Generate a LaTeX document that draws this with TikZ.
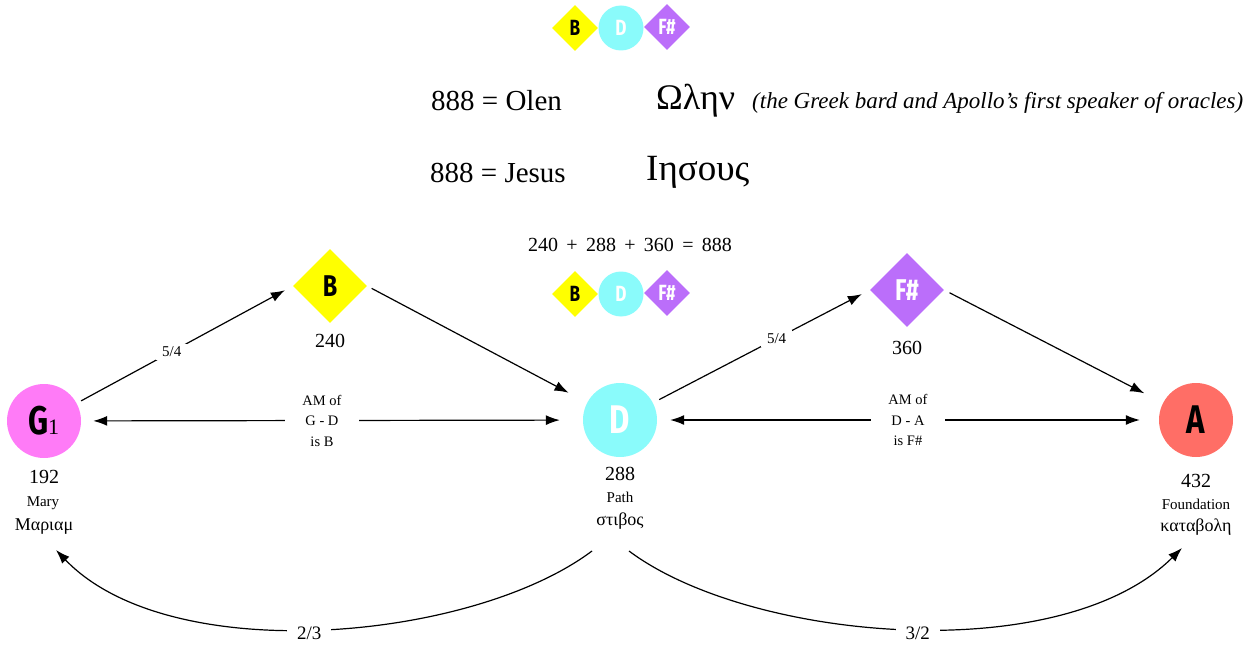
\documentclass[tikz,border=0pt]{standalone}
\usepackage{fontspec}
\setmainfont{Liberation Serif}
\newfontfamily\letfont{Fira Sans}
\usetikzlibrary{shapes.geometric,arrows.meta}
\definecolor{gpink}{HTML}{FF7BF7}
\definecolor{dcyan}{HTML}{8AFBFB}
\definecolor{ared}{HTML}{FF6E66}
\definecolor{byel}{HTML}{FFFF00}
\definecolor{fpurp}{HTML}{BB6EFA}
\newcommand\fsz[1]{\fontsize{#1}{#1}\selectfont}
\newcommand\letx[2]{\scalebox{0.78}[1]{\letfont\bfseries\fsz{#1}#2}}
\tikzset{
  conn/.style={line width=1.2pt, -{Latex[length=14pt,width=10pt]}},
  bothconn/.style={line width=1.2pt, {Latex[length=14pt,width=10pt]}-{Latex[length=14pt,width=10pt]}},
  bigcirc/.style={circle, minimum size=74pt, inner sep=0pt},
  bigdiam/.style={diamond, minimum size=74pt, inner sep=0pt},
  smcirc/.style={circle, minimum size=45pt, inner sep=0pt},
  smdiam/.style={diamond, minimum size=46pt, inner sep=0pt},
  lab/.style={fill=white, inner xsep=6pt, inner ysep=3pt, font=\fsz{15}},
  amlab/.style={fill=white, inner xsep=17pt, inner ysep=2pt, align=center, font=\fontsize{14.5}{20.5}\selectfont},
  arclab/.style={fill=white, inner xsep=10pt, inner ysep=3pt, font=\fsz{19}},
  numtxt/.style={inner sep=0pt, font=\fsz{20}},
  wordtxt/.style={inner sep=0pt, font=\fsz{15}},
  greektxt/.style={inner sep=0pt, font=\fsz{18}},
  bigtxt/.style={inner sep=0pt, anchor=west, font=\fsz{29}},
}
\begin{document}
\begin{tikzpicture}[x=1pt,y=-1pt]
\useasboundingbox (0,0) rectangle (1259,650);
% top legend
\node[smdiam, fill=byel] (lb1) at (575,28) {\letx{22}{B}};
\node[smcirc, fill=dcyan, text=white] (ld1) at (621,28) {\letx{22}{D}};
\node[smdiam, fill=fpurp, text=white] (lf1) at (667,27) {\letx{22}{F\#}};
% titles
\node[bigtxt] (olen) at (431,101) {888 = Olen};
\node[inner sep=0pt, anchor=west, font=\fsz{36}] (olengr) at (656,101) {Ωλην};
\node[inner sep=0pt, anchor=west, font=\fsz{23}\itshape] (olennote) at (752,103) {(the Greek bard and Apollo’s first speaker of oracles)};
\node[bigtxt] (jesus) at (430,173) {888 = Jesus};
\node[inner sep=0pt, anchor=west, font=\fsz{37}] (jesusgr) at (646,172) {Ιησους};
\node[inner sep=0pt, font=\fsz{20}] (sum) at (630,245) {240\ \,+\ \,288\ \,+\ \,360\ \,=\ \,888};
% second legend
\node[smdiam, fill=byel] (lb2) at (575,294) {\letx{22}{B}};
\node[smcirc, fill=dcyan, text=white] (ld2) at (621,294) {\letx{22}{D}};
\node[smdiam, fill=fpurp, text=white] (lf2) at (667,293) {\letx{22}{F\#}};
% main nodes
\node[bigcirc, fill=gpink] (G) at (44,421) {\letx{40}{G}\hspace{-1pt}{\fsz{22}1}};
\node[bigdiam, fill=byel] (B) at (330,286) {\letx{30}{B}};
\node[bigcirc, fill=dcyan, text=white] (D) at (620,420) {\letx{40}{D}};
\node[bigdiam, fill=fpurp, text=white] (F) at (907,290) {\letx{30}{F\#}};
\node[bigcirc, fill=ared] (A) at (1196,420) {\letx{40}{A}};
% captions
\node[numtxt] (Bnum) at (330,341) {240};
\node[numtxt] (Fnum) at (907,348) {360};
\node[numtxt] (Gnum) at (44,477) {192};
\node[wordtxt] (Gword) at (43,503) {Mary};
\node[greektxt] (Ggr) at (44,527) {Μαριαμ};
\node[numtxt] (Dnum) at (620,474) {288};
\node[wordtxt] (Dword) at (620,497) {Path};
\node[greektxt] (Dgr) at (620,521) {στιβος};
\node[numtxt] (Anum) at (1196,481) {432};
\node[wordtxt] (Aword) at (1196,504) {Foundation};
\node[greektxt] (Agr) at (1196,527) {καταβολη};
% connectors
\draw[conn, shorten <=5pt, shorten >=9pt] (G) -- node[lab, pos=0.44] {5/4} (B.west);
\draw[conn, shorten <=5pt, shorten >=21pt] (B.east) -- (D);
\draw[conn, shorten <=7pt, shorten >=9pt] (D) -- node[lab, pos=0.57] {5/4} (F.west);
\draw[conn, shorten <=6pt, shorten >=21pt] (F.east) -- (A);
\draw[bothconn, shorten <=12pt, shorten >=23pt] (G) -- node[amlab, pos=0.48] {AM of\\G - D\\is B} (D);
\draw[bothconn, shorten <=13pt, shorten >=19pt] (D) -- node[amlab, pos=0.5] {AM of\\D - A\\is F\#} (A);
\coordinate (dl) at (592,551);
\coordinate (dr) at (629,551);
\coordinate (gend) at (56,550);
\coordinate (aend) at (1182,548);
\draw[conn] (dl) .. controls (472,641) and (170,669) .. node[arclab, pos=0.52, yshift=-4pt] {2/3} (gend);
\draw[conn] (dr) .. controls (749,641) and (1060,669) .. node[arclab, pos=0.52, yshift=-4pt] {3/2} (aend);
\end{tikzpicture}
\end{document}
